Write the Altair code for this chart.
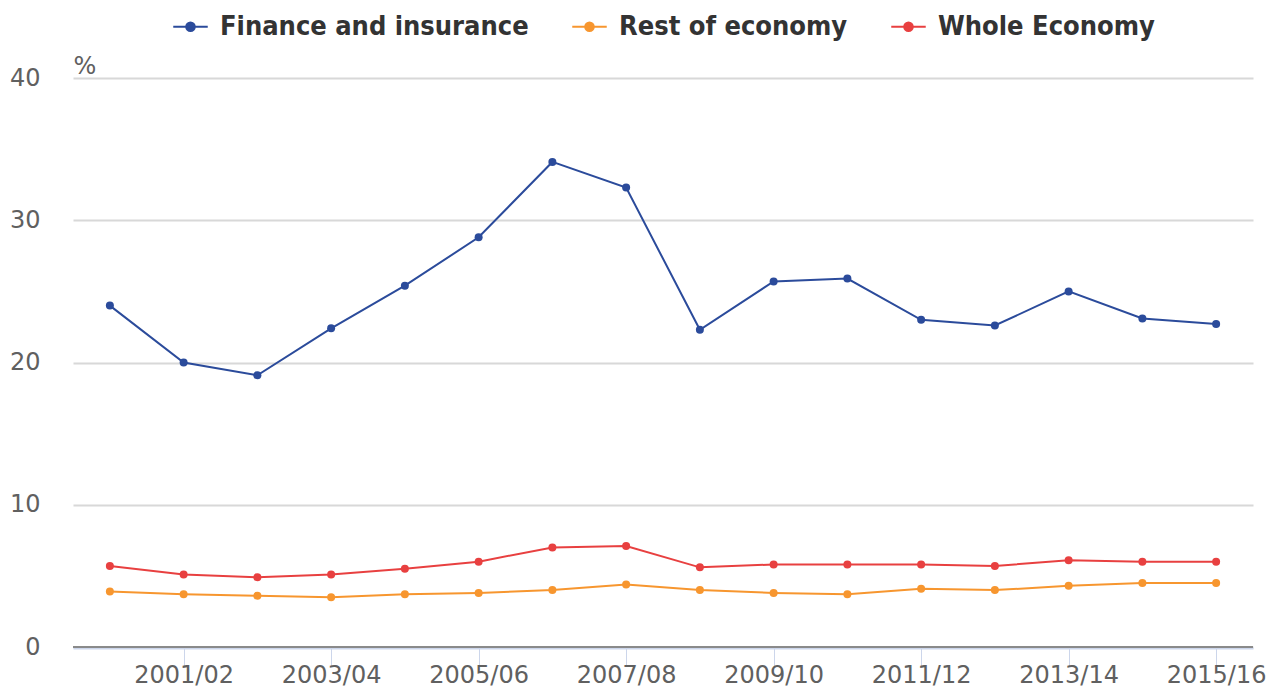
import altair as alt
import pandas as pd

years = ["2000/01", "2001/02", "2002/03", "2003/04", "2004/05", "2005/06", "2006/07", "2007/08",
         "2008/09", "2009/10", "2010/11", "2011/12", "2012/13", "2013/14", "2014/15", "2015/16"]
finance = [24.0, 20.0, 19.1, 22.4, 25.4, 28.8, 34.1, 32.3, 22.3, 25.7, 25.9, 23.0, 22.6, 25.0, 23.1, 22.7]
rest = [3.9, 3.7, 3.6, 3.5, 3.7, 3.8, 4.0, 4.4, 4.0, 3.8, 3.7, 4.1, 4.0, 4.3, 4.5, 4.5]
whole = [5.7, 5.1, 4.9, 5.1, 5.5, 6.0, 7.0, 7.1, 5.6, 5.8, 5.8, 5.8, 5.7, 6.1, 6.0, 6.0]

series_names = ["Finance and insurance", "Rest of economy", "Whole Economy"]
series_colors = ["#2b4b9b", "#f7962f", "#e84040"]
tick_labels = years[1::2]

rows = []
for name, vals in zip(series_names, [finance, rest, whole]):
    for y, v in zip(years, vals):
        rows.append({"year": y, "value": v, "series": name})
df = pd.DataFrame(rows)

color = alt.Color(
    "series:N",
    scale=alt.Scale(domain=series_names, range=series_colors),
    legend=alt.Legend(
        title=None,
        orient="none",
        direction="horizontal",
        legendX=99,
        legendY=-70,
        labelFont="DejaVu Sans Condensed",
        labelFontWeight="bold",
        labelFontSize=27,
        labelColor="#333333",
        labelLimit=500,
        symbolType="M-1,0L1,0M-0.25,0A0.25,0.25,0,1,1,0.25,0A0.25,0.25,0,1,1,-0.25,0Z",
        symbolSize=1190,
        symbolStrokeWidth=2,
        columnPadding=39,
        labelOffset=11,
    ),
)

x = alt.X(
    "year:N",
    sort=years,
    scale=alt.Scale(type="point", padding=0.5),
    axis=alt.Axis(
        title=None,
        values=tick_labels,
        labelAngle=0,
        labelFont="DejaVu Sans",
        labelFontSize=24,
        labelColor="#606060",
        labelPadding=-3,
        tickColor="#ccd6eb",
        tickSize=18,
        tickWidth=1,
        domainColor="#ccd6eb",
        domainWidth=2,
        offset=1,
        grid=False,
    ),
)

y = alt.Y(
    "value:Q",
    scale=alt.Scale(domain=[0, 40]),
    axis=alt.Axis(
        title="%",
        titleAngle=0,
        titleAlign="left",
        titleBaseline="bottom",
        titleX=0,
        titleY=0,
        titleFont="DejaVu Sans",
        titleFontSize=24,
        titleFontWeight="normal",
        titleColor="#606060",
        values=[0, 10, 20, 30, 40],
        labelFont="DejaVu Sans",
        labelFontSize=24,
        labelColor="#606060",
        labelPadding=33,
        ticks=False,
        domain=False,
        gridColor="#d8d8d8",
        gridWidth=2,
    ),
)

zero_rule = alt.Chart(pd.DataFrame({"v": [0]})).mark_rule(color="#8a8a8a", strokeWidth=2).encode(
    y=alt.Y("v:Q", scale=alt.Scale(domain=[0, 40]))
)
lines = alt.Chart(df).mark_line(strokeWidth=2).encode(x=x, y=y, color=color)
points = alt.Chart(df).mark_circle(size=64, opacity=1).encode(x=x, y=y, color=color)

chart = alt.layer(lines, zero_rule, points).properties(
    width=1180,
    height=569,
    autosize=alt.AutoSizeParams(type="none"),
    padding={"left": 65, "top": 70, "right": 16, "bottom": 46},
).configure_view(stroke=None)

chart.save("out.html", embed_options={"renderer": "svg", "actions": False})
